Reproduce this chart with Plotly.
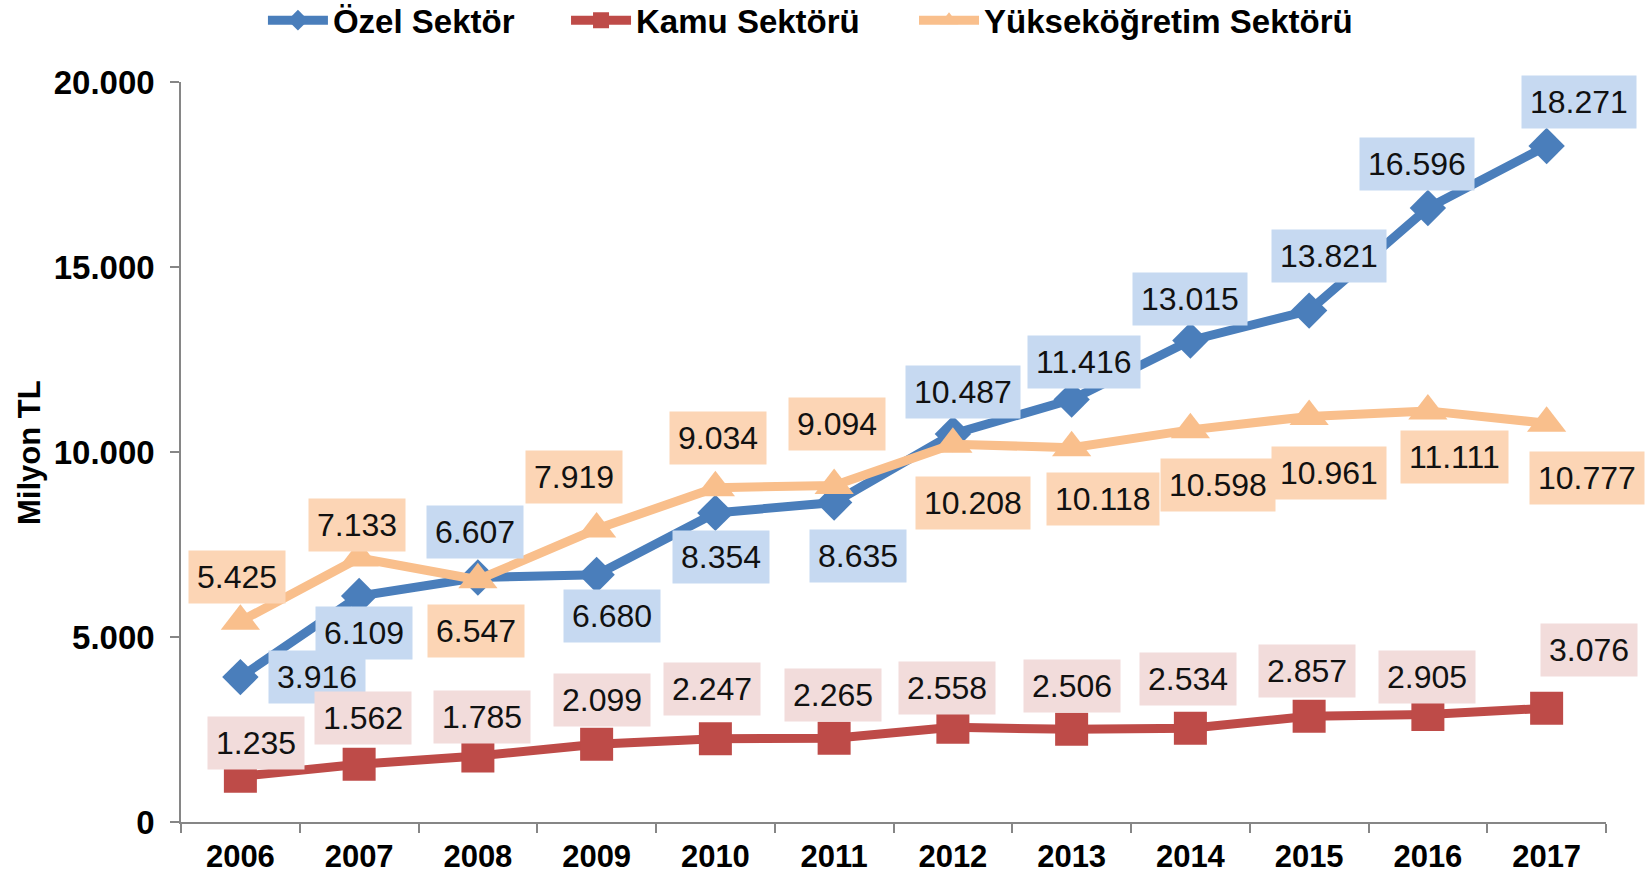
import plotly.graph_objects as go

years = ["2006", "2007", "2008", "2009", "2010", "2011", "2012", "2013", "2014", "2015", "2016", "2017"]
ozel = [3916, 6109, 6607, 6680, 8354, 8635, 10487, 11416, 13015, 13821, 16596, 18271]
kamu = [1235, 1562, 1785, 2099, 2247, 2265, 2558, 2506, 2534, 2857, 2905, 3076]
yuksek = [5425, 7133, 6547, 7919, 9034, 9094, 10208, 10118, 10598, 10961, 11111, 10777]
y_ticks = [0, 5000, 10000, 15000, 20000]

# label offsets in pixels (dx, dy) relative to each data point
ozel_off = [(77, 0), (5, -37), (-3, 46), (15, -41), (6, -44), (24, -53),
            (10, 42), (12, 38), (0, 41), (20, 55), (-11, 44), (32, 44)]
kamu_off = [(16, 33), (4, 46), (4, 39), (5, 44), (-3, 50), (-1, 43),
            (-6, 39), (0, 43), (-2, 49), (-2, 45), (-1, 38), (42, 58)]
yuksek_off = [(-3, 44), (-2, 33), (-2, -51), (-23, 52), (3, 50), (3, 62),
              (20, -59), (31, -51), (28, -55), (20, -57), (27, -46), (40, -55)]

FONT = "Liberation Sans, Arial, sans-serif"

def fmt(v):
    return f"{v:,}".replace(",", ".")

series = [
    ("Özel Sektör", ozel, "#4A7EBB", "diamond", 28, "#C6D9F1", ozel_off, "legend", 0.0575),
    ("Kamu Sektörü", kamu, "#BE4B48", "square", 33, "#F2DCDB", kamu_off, "legend2", 0.2702),
    ("Yükseköğretim Sektörü", yuksek, "#F9BF8C", "triangle-up", 34, "#FCD5B5", yuksek_off, "legend3", 0.5144),
]

fig = go.Figure()
annotations = []
legends = {}
for name, vals, color, sym, msize, bg, offs, leg, lx in series:
    fig.add_trace(go.Scatter(
        x=years, y=vals, name=name, mode="lines+markers",
        line=dict(color=color, width=9),
        marker=dict(symbol=sym, size=msize, color=color),
        cliponaxis=False, legend=leg,
    ))
    legends[leg] = dict(orientation="h", x=lx, xanchor="left",
                        y=0.977, yanchor="middle", yref="container",
                        itemwidth=60,
                        font=dict(family=FONT, size=33, color="#000000", weight="bold"),
                        bgcolor="rgba(0,0,0,0)")
    for i, (v, (dx, dy)) in enumerate(zip(vals, offs)):
        annotations.append(dict(
            x=i, y=v, xref="x", yref="y", text=fmt(v), showarrow=False,
            xshift=dx, yshift=dy, bgcolor=bg, borderpad=8,
            font=dict(family=FONT, size=32, color="#111111"),
        ))

annotations.append(dict(
    x=-0.1067, y=0.5, xref="paper", yref="paper", text="Milyon TL",
    textangle=-90, showarrow=False, xanchor="center", yanchor="middle",
    font=dict(family=FONT, size=31, color="#000000", weight="bold"),
))

fig.update_layout(
    width=1648, height=880,
    margin=dict(l=181, r=42, t=82, b=58),
    paper_bgcolor="white", plot_bgcolor="white",
    separators=",.",
    showlegend=True,
    annotations=annotations,
    xaxis=dict(type="category", range=[-0.5, 11.5], showgrid=False,
               showline=True, linecolor="#868686", linewidth=1.5,
               ticks="outside", tickson="boundaries", ticklen=9, tickcolor="#868686",
               tickwidth=1.5, ticklabelstandoff=6, automargin=False,
               tickfont=dict(family=FONT, size=31, color="#000000", weight="bold")),
    yaxis=dict(range=[0, 20000], showgrid=False, zeroline=False,
               showline=True, linecolor="#868686", linewidth=1.5,
               ticks="outside", ticklen=9, tickcolor="#868686", tickwidth=1.5,
               tickvals=y_ticks, ticktext=[fmt(v) for v in y_ticks],
               ticklabelstandoff=9, automargin=False,
               tickfont=dict(family=FONT, size=33, color="#000000", weight="bold")),
    **legends,
)

fig.write_html("out.html")
